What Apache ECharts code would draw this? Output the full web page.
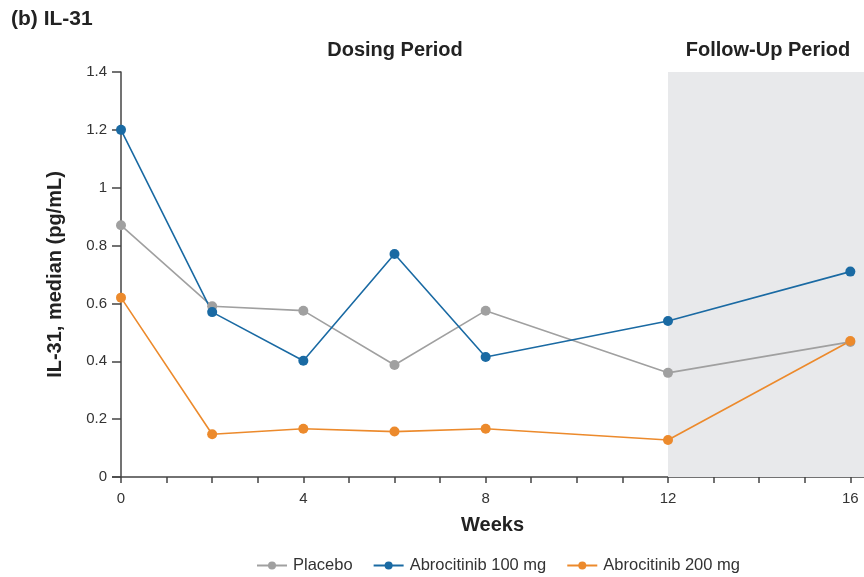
<!DOCTYPE html>
<html><head><meta charset="utf-8">
<script src="https://cdn.jsdelivr.net/npm/echarts@6/dist/echarts.min.js"></script>
<style>html,body{margin:0;padding:0;background:#fff}#c{width:864px;height:577px}</style>
</head><body><div id="c"></div>
<script>
const weeks = [0, 2, 4, 6, 8, 12, 16];
const placebo = [0.87, 0.59, 0.575, 0.387, 0.575, 0.36, 0.467];
const abro100 = [1.2, 0.57, 0.402, 0.771, 0.415, 0.539, 0.71];
const abro200 = [0.62, 0.148, 0.167, 0.157, 0.167, 0.128, 0.47];
const seriesNames = ['Placebo', 'Abrocitinib 100 mg', 'Abrocitinib 200 mg'];
const colors = ['#a0a0a0', '#1a6aa3', '#ec8a2c'];
const xLabels = [0, 4, 8, 12, 16];
const yTicks = [0, 0.2, 0.4, 0.6, 0.8, 1, 1.2, 1.4];

const chart = echarts.init(document.getElementById('c'));
const font = 'Liberation Sans, Arial, sans-serif';
const mk = (name, data, color, extra) => Object.assign({
  name, type: 'line', data: weeks.map((w, i) => [w, data[i]]),
  symbol: 'circle', symbolSize: 10, color,
  lineStyle: { width: 1.6, color }, itemStyle: { color },
  z: 3
}, extra || {});
chart.setOption({
  animation: false,
  textStyle: { fontFamily: font },
  grid: { left: 121, right: 0, top: 72, bottom: 100 },
  legend: {
    top: 552, left: 251, itemWidth: 30, itemHeight: 10, itemGap: 20,
    textStyle: { fontSize: 16.5, color: '#333', fontFamily: font, padding: [0, 0, 0, 1] },
    data: seriesNames
  },
  xAxis: {
    type: 'value', min: 0, max: 16.3, interval: 1,
    name: 'Weeks', nameLocation: 'middle', nameGap: 38,
    nameTextStyle: { fontSize: 20, fontWeight: 'bold', color: '#222', fontFamily: font },
    axisLine: { lineStyle: { color: '#444', width: 1.5 } },
    axisTick: { lineStyle: { color: '#444', width: 1.5 }, length: 6 },
    axisLabel: { fontSize: 15, color: '#333', margin: 14, showMaxLabel: false,
      formatter: v => xLabels.includes(v) ? String(v) : '' },
    splitLine: { show: false }
  },
  yAxis: {
    type: 'value', min: 0, max: 1.4, interval: 0.2,
    name: 'IL-31, median (pg/mL)', nameLocation: 'middle', nameGap: 56,
    nameTextStyle: { fontSize: 20, fontWeight: 'bold', color: '#222', fontFamily: font },
    axisLine: { show: true, lineStyle: { color: '#444', width: 1.5 } },
    axisTick: { show: true, lineStyle: { color: '#444', width: 1.5 }, length: 9 },
    axisLabel: { fontSize: 15, color: '#333', margin: 14,
      formatter: v => { const t = yTicks.find(x => Math.abs(x - v) < 1e-9); return t === undefined ? '' : String(Math.round(t * 10) / 10); } },
    splitLine: { show: false }
  },
  series: [
    mk(seriesNames[0], placebo, colors[0], {
      markArea: { silent: true, itemStyle: { color: '#e8e9eb' },
        data: [[{ xAxis: 12, yAxis: 0 }, { xAxis: 16.3, yAxis: 1.4 }]] }
    }),
    mk(seriesNames[1], abro100, colors[1]),
    mk(seriesNames[2], abro200, colors[2])
  ],
  graphic: [
    { type: 'text', left: 11, top: 9, style: { text: '(b) IL-31', font: 'bold 21px ' + font, fill: '#222' } },
    { type: 'text', x: 395, y: 50, style: { text: 'Dosing Period', font: 'bold 20px ' + font, fill: '#222', textAlign: 'center', textVerticalAlign: 'middle' } },
    { type: 'text', x: 768, y: 50, style: { text: 'Follow-Up Period', font: 'bold 20px ' + font, fill: '#222', textAlign: 'center', textVerticalAlign: 'middle' } },
    { type: 'line', shape: { x1: 112, y1: 477, x2: 121, y2: 477 }, style: { stroke: '#444', lineWidth: 1.5 } }
  ]
});
</script></body></html>
